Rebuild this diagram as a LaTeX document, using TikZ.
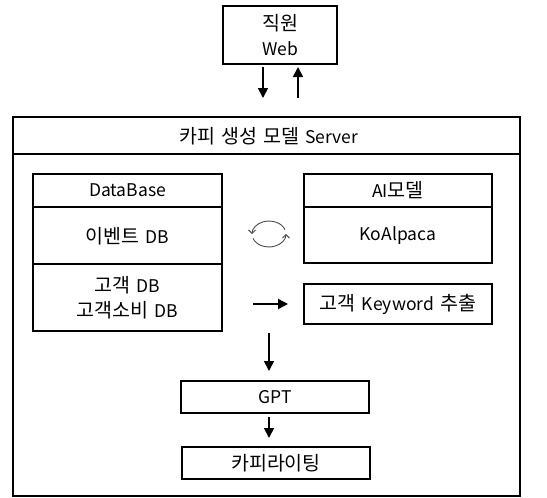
\documentclass[tikz,border=0pt]{standalone}
\usepackage{fontspec}
\setmainfont{Noto Sans CJK KR}[WordSpace=1.4]
\usetikzlibrary{arrows.meta}
\newcommand\lat[1]{{\fontsize{17.5}{25}\selectfont #1}}
\begin{document}
\begin{tikzpicture}[x=1pt,y=-1pt,
  box/.style={draw=black,line width=1.6pt,inner sep=0pt},
  lbl/.style={font=\fontsize{19.5}{25}\selectfont,align=center,inner sep=0pt},
  arr/.style={line width=1.6pt,-{Triangle[length=10pt,width=10pt]}},
  cyc/.style={gray!60!black,line width=0.9pt,-{Straight Barb[length=3.5pt,width=7pt]}}]
\useasboundingbox (0,0) rectangle (547,498);
% Web
\draw[box] (223,6) rectangle (337,64);
\node[lbl] (web) at (280,35) {직원\\\lat{Web}};
\coordinate (d1) at (263,67); \coordinate (d2) at (263,98);
\coordinate (u1) at (298,98); \coordinate (u2) at (298,67);
\draw[arr] (d1) -- (d2);
\draw[arr] (u1) -- (u2);
% Server
\draw[box] (13,117) rectangle (520,496);
\draw[box] (13,154) -- (520,154);
\node[lbl] (server) at (269,136) {카피 생성 모델 \lat{Server}};
% DataBase
\draw[box] (33,174) rectangle (222,331);
\draw[box] (33,207) -- (222,207);
\draw[box] (33,264) -- (222,264);
\node[lbl] (db) at (127.5,190) {\lat{DataBase}};
\node[lbl] (edb) at (127.5,236) {이벤트 \lat{DB}};
\node[lbl] (cdb) at (127.5,297.5) {고객 \lat{DB}\\고객소비 \lat{DB}};
% AI model
\draw[box] (304,174) rectangle (492,263);
\draw[box] (304,207) -- (492,207);
\node[lbl] (ai) at (398,190) {\lat{AI}모델};
\node[lbl] (ko) at (398,236) {\lat{KoAlpaca}};
% keyword
\node[box,lbl,minimum width=188pt,minimum height=40pt] (kw) at (398,304) {고객 \lat{Keyword} 추출};
\coordinate (r1) at (253,304); \coordinate (r2) at (288,304);
\draw[arr] (r1) -- (r2);
% cycle icon (centre 269,234)
\draw[cyc] (285.0,229.6) arc[start angle=-20,end angle=-180,x radius=17,y radius=13];
\draw[cyc] (253.0,238.4) arc[start angle=160,end angle=0,x radius=17,y radius=13];
% GPT
\node[box,lbl,minimum width=188pt,minimum height=32pt] (gpt) at (275,397) {\lat{GPT}};
\node[box,lbl,minimum width=188pt,minimum height=32pt] (copy) at (276,463) {카피라이팅};
\coordinate (g1) at (269,333); \coordinate (g2) at (269,371);
\coordinate (g3) at (269,417); \coordinate (g4) at (269,438);
\draw[arr] (g1) -- (g2);
\draw[arr] (g3) -- (g4);
\end{tikzpicture}
\end{document}
